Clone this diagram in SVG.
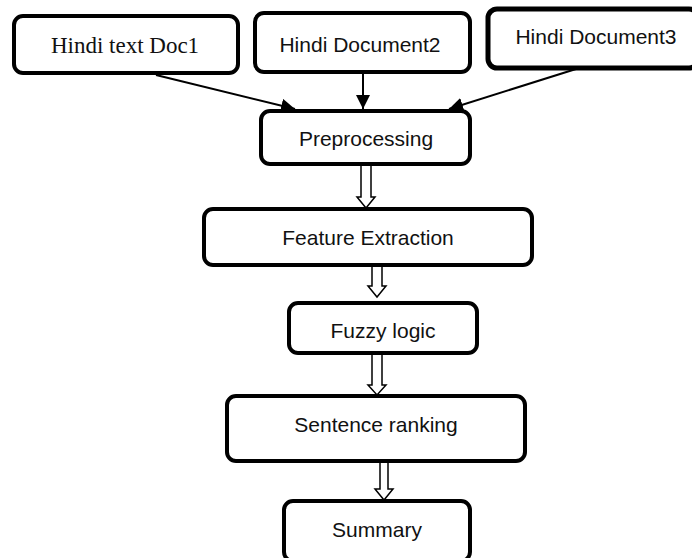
<svg xmlns="http://www.w3.org/2000/svg" width="692" height="558" viewBox="0 0 692 558">
<style>
.box{fill:#fff;stroke:#000;stroke-width:4}
.t{font-family:"Liberation Sans",Arial,sans-serif;font-size:21px;fill:#111;text-anchor:middle}
.ts{font-family:"Liberation Serif","Times New Roman",serif;font-size:23px;fill:#111;text-anchor:middle}
.ln{stroke:#000;stroke-width:2;fill:none}
.ha{fill:#fff;stroke:#000;stroke-width:1.5;stroke-linejoin:miter}
</style>
<defs>
<marker id="ah" viewBox="0 0 10 10" refX="10" refY="5" markerWidth="6" markerHeight="6" markerUnits="userSpaceOnUse" orient="auto">
<path d="M0,0 L10,5 L0,10 z" fill="#000"/>
</marker>
<marker id="ahb" viewBox="0 0 10 10" refX="10" refY="5" markerWidth="14" markerHeight="14" markerUnits="userSpaceOnUse" orient="auto">
<path d="M0,0 L10,5 L0,10 z" fill="#000"/>
</marker>
<clipPath id="fz"><rect x="280" y="300" width="200" height="42"/></clipPath>
</defs>
<g id="connectors">
<line class="ln" x1="156" y1="75" x2="295" y2="109" marker-end="url(#ahb)"/>
<line class="ln" x1="363" y1="73" x2="363" y2="109" marker-end="url(#ahb)"/>
<line class="ln" x1="576" y1="69" x2="449" y2="109" marker-end="url(#ahb)"/>
<path class="ha" d="M361,165 L371,165 L371,197 L375,197 L366,208 L357,197 L361,197 Z"/>
<path class="ha" d="M372,266 L382,266 L382,286 L386,286 L377,297 L368,286 L372,286 Z"/>
<path class="ha" d="M372,354 L382,354 L382,385 L386,385 L377,395 L368,385 L372,385 Z"/>
<path class="ha" d="M380,462 L388,462 L388,489 L393,489 L384,500 L375,489 L380,489 Z"/>
</g>
<g id="doc1">
<rect class="box" x="14" y="16" width="224" height="57" rx="9"/>
<text class="ts" x="125" y="53">Hindi text Doc1</text>
</g>
<g id="doc2">
<rect class="box" x="255" y="13" width="215" height="59" rx="9"/>
<text class="t" x="360" y="52">Hindi Document2</text>
</g>
<g id="doc3">
<rect class="box" x="488" y="9" width="210" height="59" rx="9" style="stroke-width:5"/>
<text class="t" x="596" y="44">Hindi Document3</text>
</g>
<g id="preprocessing">
<rect class="box" x="261" y="111" width="209" height="53" rx="9"/>
<text class="t" x="366" y="146">Preprocessing</text>
</g>
<g id="feature">
<rect class="box" x="204" y="209" width="328" height="56" rx="9"/>
<text class="t" x="368" y="245">Feature Extraction</text>
</g>
<g id="fuzzy">
<rect class="box" x="289" y="303" width="188" height="50" rx="9"/>
<text class="t" x="383" y="338" clip-path="url(#fz)">Fuzzy logic</text>
</g>
<g id="ranking">
<rect class="box" x="227" y="396" width="298" height="65" rx="9"/>
<text class="t" x="376" y="432">Sentence ranking</text>
</g>
<g id="summary">
<rect class="box" x="284" y="501" width="186" height="60" rx="9"/>
<text class="t" x="377" y="537">Summary</text>
</g>
</svg>
